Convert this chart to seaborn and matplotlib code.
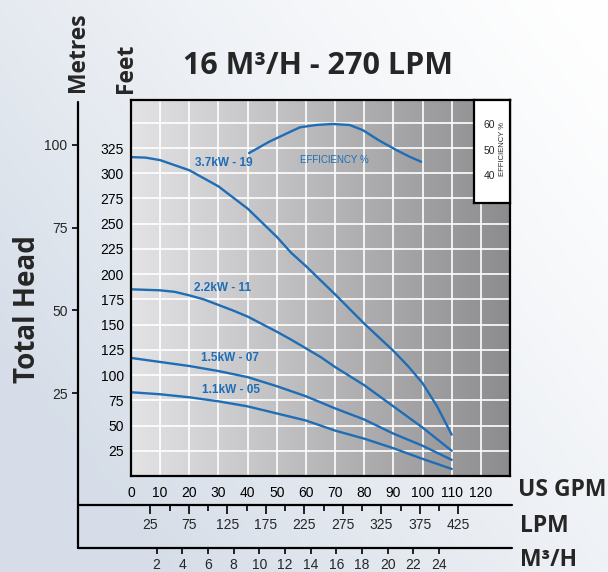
import numpy as np
import pandas as pd
import matplotlib
matplotlib.use("Agg")
import matplotlib.pyplot as plt
from matplotlib.lines import Line2D
import seaborn as sns

# --- DATA ---
GPM_37 = [0, 5, 10, 15, 20, 25, 30, 35, 40, 45, 50, 55, 60, 70, 80, 90, 95, 100, 105, 110]
HEAD_37KW = [316, 315.5, 313, 308, 303, 295, 287, 276, 265, 251, 237, 221, 208,
             180, 151, 124, 109, 92, 69, 41]
GPM_22 = [0, 10, 15, 20, 25, 30, 35, 40, 45, 50, 55, 60, 65, 70, 80, 90, 100, 110]
HEAD_22KW = [185, 184, 182.5, 179, 175, 169.5, 164, 158, 150.5, 143, 135, 126.5, 118,
             108, 90, 69, 48, 25]
GPM_LOW = [0, 10, 20, 30, 40, 50, 60, 70, 80, 90, 100, 110]
HEAD_15KW = [117, 113, 109, 104, 98, 89, 79, 67, 56, 42, 30, 16]
HEAD_11KW = [83, 81, 78, 74, 69, 62, 55, 45, 37, 27.5, 17, 7]
PUMP_NAMES = ["3.7kW - 19", "2.2kW - 11", "1.5kW - 07", "1.1kW - 05"]

EFF_GPM = [40.5, 47.5, 55.5, 58, 63.5, 69, 75, 79.5, 85, 91, 95.5, 99.5]
EFF_PCT = [49, 53.5, 57.8, 59.1, 60, 60.4, 60, 58, 54, 50.2, 47.6, 45.6]

FEET_TICKS = list(range(25, 375, 25))
GPM_TICKS = list(range(0, 130, 10))
METRE_TICKS = [25, 50, 75, 100]
LPM_TICKS = [25, 75, 125, 175, 225, 275, 325, 375, 425]
LPM_MINOR = [50, 100, 150, 200, 250, 300, 350, 400]
M3H_TICKS = list(range(2, 26, 2))
EFF_TICKS = [40, 50, 60]

BLUE = "#1f6db5"
W, H = 608, 572


def fx(px):
    return px / W


def fy(py):
    return 1 - py / H


sns.set_theme(style="white")
plt.rcParams["font.family"] = ["Liberation Sans", "DejaVu Sans"]

fig = plt.figure(figsize=(W / 100, H / 100), dpi=100)

# page background: soft blue-grey fading to white at the top right
bg = fig.add_axes([0, 0, 1, 1], zorder=-5)
xx, yy = np.meshgrid(np.linspace(0, 1, 200), np.linspace(0, 1, 200))
amt = np.clip((1 - xx) * 0.7 + yy * 0.5, 0, 1) ** 1.3
base = np.array([1.0, 1.0, 1.0])
tint = np.array([0.84, 0.87, 0.91])
img = base * (1 - amt[..., None]) + tint * amt[..., None]
bg.imshow(img, extent=[0, 1, 0, 1], aspect="auto", origin="upper")
bg.axis("off")

# main plot area (pixels 131..510 x 100..476)
ax = fig.add_axes([fx(131), fy(476), fx(510 - 131), (476 - 100) / H])
YMAX = 372.6
ax.set_xlim(0, 130)
ax.set_ylim(0, YMAX)

grad = np.linspace(0, 1, 256)[None, :]
gcol = np.array([0.89, 0.89, 0.90])[None, None, :] * (1 - grad[..., None]) + \
    np.array([0.55, 0.55, 0.56])[None, None, :] * grad[..., None]
ax.imshow(gcol, extent=[0, 130, 0, YMAX], aspect="auto", zorder=0)

ax.set_xticks(GPM_TICKS)
ax.set_yticks(FEET_TICKS)
ax.set_yticklabels([str(v) if v <= 325 else "" for v in FEET_TICKS])
ax.grid(False)
for v in range(10, 130, 10):
    ax.axvline(v, color="white", lw=1.2, zorder=0.5)
for v in FEET_TICKS:
    ax.axhline(v, color="white", lw=1.2, zorder=0.5)
ax.tick_params(axis="both", length=0, labelsize=10, colors="black")
ax.tick_params(axis="x", pad=7)
ax.tick_params(axis="y", pad=5)
for s in ax.spines.values():
    s.set_color("black")
    s.set_linewidth(1.6)
    s.set_zorder(5)

# pump head curves
curves = pd.DataFrame({
    "gpm": GPM_37 + GPM_22 + GPM_LOW + GPM_LOW,
    "head_ft": HEAD_37KW + HEAD_22KW + HEAD_15KW + HEAD_11KW,
    "pump": [PUMP_NAMES[0]] * len(GPM_37) + [PUMP_NAMES[1]] * len(GPM_22)
            + [PUMP_NAMES[2]] * len(GPM_LOW) + [PUMP_NAMES[3]] * len(GPM_LOW),
})
sns.lineplot(data=curves, x="gpm", y="head_ft", hue="pump", palette=[BLUE] * 4,
             estimator=None, legend=False, lw=1.7, ax=ax, zorder=3)
ax.set_xlabel("")
ax.set_ylabel("")

label_pos = {"3.7kW - 19": (21.9, 310), "2.2kW - 11": (21.6, 186),
             "1.5kW - 07": (24.0, 117), "1.1kW - 05": (24.3, 85)}
for name, (lx, ly) in label_pos.items():
    ax.text(lx, ly, name, color=BLUE, fontsize=8.5, fontweight="bold",
            va="center", ha="left", zorder=4)

# efficiency curve on its own scale
EFF_LIM = (-77.6, 69.8)
ax_eff = ax.twinx()
ax_eff.set_ylim(*EFF_LIM)
eff_df = pd.DataFrame({"gpm": EFF_GPM, "eff": EFF_PCT})
sns.lineplot(data=eff_df, x="gpm", y="eff", color=BLUE, lw=1.7, ax=ax_eff, zorder=3)
ax_eff.set_ylabel("")
ax_eff.set_yticks([])
for s in ax_eff.spines.values():
    s.set_visible(False)
ax_eff.text(57.9, 313.2, "EFFICIENCY %", color=BLUE, fontsize=7,
            va="center", ha="left", transform=ax.transData)

# efficiency scale box, top right
box_h = 203 - 100
box = fig.add_axes([fx(474), fy(203), fx(510 - 474), box_h / H], zorder=6)
span = EFF_LIM[1] - EFF_LIM[0]
box.set_ylim(EFF_LIM[1] - span * box_h / 376, EFF_LIM[1])
box.set_xlim(0, 1)
box.set_facecolor("white")
box.set_xticks([])
box.set_yticks([])
for s in box.spines.values():
    s.set_color("black")
    s.set_linewidth(1.6)
for v in EFF_TICKS:
    box.text(0.42, v, str(v), fontsize=7.5, ha="center", va="center")
box.text(0.8, 50.5, "EFFICIENCY %", fontsize=5.5, rotation=90,
         ha="center", va="center")

# metres scale on the far left
ft_per_m = 3.2808
sec_m = ax.secondary_yaxis((78 - 131) / (510 - 131),
                           functions=(lambda f: f / ft_per_m, lambda m: m * ft_per_m))
sec_m.set_yticks(METRE_TICKS)
sec_m.tick_params(length=4.5, width=1.2, color="black", labelsize=10, pad=3,
                  direction="out")
for s in sec_m.spines.values():
    s.set_visible(False)

# LPM and M3/H scales below the GPM axis
lpm_per_gpm = 3.78541
m3h_per_gpm = 0.227125
sec_lpm = ax.secondary_xaxis((476 - 505) / 376,
                             functions=(lambda g: g * lpm_per_gpm, lambda l: l / lpm_per_gpm))
sec_lpm.set_xticks(LPM_TICKS)
sec_lpm.set_xticks(LPM_MINOR, minor=True)
sec_lpm.tick_params(which="major", length=6.5, width=1.2, color="black",
                    labelsize=10, pad=3, direction="out")
sec_lpm.tick_params(which="minor", length=4.5, width=1.2, color="black", direction="out")

sec_m3 = ax.secondary_xaxis((476 - 548) / 376,
                            functions=(lambda g: g * m3h_per_gpm, lambda m: m / m3h_per_gpm))
sec_m3.set_xticks(M3H_TICKS)
sec_m3.tick_params(length=4.5, width=1.2, color="black", labelsize=10, pad=3,
                   direction="out")
for sec in (sec_lpm, sec_m3):
    for s in sec.spines.values():
        s.set_visible(False)

# frame lines tying the scales together
for (x1, y1, x2, y2) in [(78, 102, 78, 548), (78, 505, 512, 505), (78, 548, 512, 548)]:
    fig.add_artist(Line2D([fx(x1), fx(x2)], [fy(y1), fy(y2)],
                          transform=fig.transFigure, color="black", lw=1.6))

# headings
hfont = ["Open Sans", "DejaVu Sans"]
fig.text(fx(318), fy(66), "16 M\u00b3/H - 270 LPM", family=hfont, fontweight="bold",
         fontsize=22, ha="center", va="center")
fig.text(fx(78), fy(52), "Metres", family=hfont, fontweight="bold", fontsize=16.5,
         rotation=90, ha="center", va="center")
fig.text(fx(126), fy(68), "Feet", family=hfont, fontweight="bold", fontsize=16.5,
         rotation=90, ha="center", va="center")
fig.text(fx(28), fy(309), "Total Head", family=hfont, fontweight="bold", fontsize=20,
         rotation=90, ha="center", va="center")
fig.text(fx(518), fy(490), "US GPM", family=hfont, fontweight="bold", fontsize=16.5,
         ha="left", va="center")
fig.text(fx(520), fy(526), "LPM", family=hfont, fontweight="bold", fontsize=16.5,
         ha="left", va="center")
fig.text(fx(520), fy(560), "M\u00b3/H", family=hfont, fontweight="bold", fontsize=16.5,
         ha="left", va="center")

fig.savefig("out.png", dpi=100)
